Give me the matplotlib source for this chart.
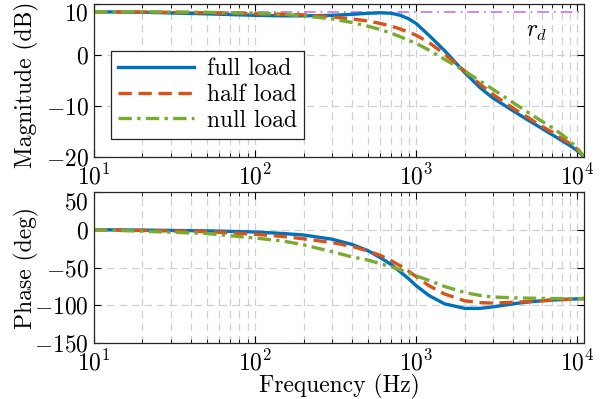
import matplotlib
matplotlib.use("Agg")
import matplotlib.pyplot as plt
from matplotlib.ticker import LogLocator, NullFormatter

plt.rcParams["font.family"] = "serif"
plt.rcParams["font.serif"] = ["cmr10"]
plt.rcParams["mathtext.fontset"] = "cm"
plt.rcParams["axes.formatter.use_mathtext"] = True
plt.rcParams["font.size"] = 17

# frequency grid (Hz) shared by all curves
freq_hz = [10, 20, 50, 100, 150, 200, 300, 400, 500, 600, 700, 800, 900, 1000,
           1200, 1500, 2000, 2500, 3000, 4000, 5000, 6000, 7000, 8000, 9000,
           10000, 11000]

# magnitude (dB)
mag_full = [8.4, 8.3, 8.0, 7.7, 7.6, 7.6, 7.7, 7.9, 8.1, 8.2, 8.1, 7.7, 7.0, 6.1,
            3.8, 0.8, -3.5, -6.5, -8.5, -11.0, -12.9, -14.4, -15.7, -16.8, -17.8,
            -18.8, -20.0]
mag_half = [8.4, 8.35, 8.2, 8.0, 7.9, 7.8, 7.4, 7.0, 6.6, 6.1, 5.6, 5.0, 4.4, 3.8,
            2.4, 0.1, -3.2, -5.8, -7.8, -10.5, -12.4, -14.0, -15.2, -16.4, -17.4,
            -18.5, -20.0]
mag_null = [8.4, 8.4, 8.3, 8.1, 7.9, 7.6, 7.0, 6.3, 5.6, 4.9, 4.2, 3.5, 2.8, 2.2,
            0.9, -0.9, -3.2, -5.2, -6.8, -9.4, -11.4, -13.0, -14.3, -15.6, -16.9,
            -18.3, -20.0]

# phase (deg)
ph_full = [0, -0.5, -1.5, -3, -5, -7, -12.5, -19.5, -27.5, -37, -46, -56, -65, -74,
           -87, -98, -104, -104, -102, -98, -95.5, -94, -93, -92.3, -91.8, -91.4, -91]
ph_half = [0, -1, -2.5, -6, -9, -12, -17, -22, -28, -34, -41, -48, -55, -62,
           -74, -85, -94, -96.5, -97, -96, -95, -94, -93, -92.5, -92, -91.5, -91]
ph_null = [0, -2, -5, -11, -15, -20, -29, -36, -40, -45, -49, -53, -57, -61,
           -67, -75, -83, -87, -89, -90, -90.5, -90.8, -91, -91, -91, -91, -91]

r_d = 8.3
labels = ["full load", "half load", "null load"]
colors = ["#0072BD", "#D95319", "#77AC30"]

fig = plt.figure(figsize=(6.02, 3.99), dpi=100)
ax1 = fig.add_axes([0.156, 0.607, 0.814, 0.384])
ax2 = fig.add_axes([0.156, 0.140, 0.814, 0.379])

styles = [dict(ls="-"), dict(ls=(0, (4, 2))), dict(ls=(0, (4, 1.6, 1, 1.6)))]

for ax in (ax1, ax2):
    ax.set_xscale("log")
    ax.set_xlim(10, 1.1e4)
    ax.xaxis.set_major_locator(LogLocator(base=10, numticks=10))
    ax.xaxis.set_minor_locator(LogLocator(base=10, subs=range(2, 10), numticks=20))
    ax.xaxis.set_minor_formatter(NullFormatter())
    ax.grid(True, which="major", color="#d0d0d0", ls=(0, (6, 4)), lw=0.9)
    ax.grid(True, which="minor", axis="x", color="#d0d0d0", ls=(0, (6, 4)), lw=0.9)
    ax.set_axisbelow(True)
    ax.tick_params(which="both", direction="in", top=True, right=True)
    ax.tick_params(which="major", length=5, width=0.8)
    ax.tick_params(which="minor", length=3, width=0.6)
    for s in ax.spines.values():
        s.set_linewidth(0.9)
        s.set_color("#262626")

mags = [mag_full, mag_half, mag_null]
phases = [ph_full, ph_half, ph_null]
ax1.axhline(r_d, color="#CC88EE", lw=1.4, ls=(0, (6, 2.5, 1, 2.5)), zorder=1.5)
for m, p, c, st, lab in zip(mags, phases, colors, styles, labels):
    ax1.plot(freq_hz, m, color=c, lw=2.4, label=lab, **st)
    ax2.plot(freq_hz, p, color=c, lw=2.4, **st)

ax1.text(5600, 4.4, r"$r_d$", fontsize=17, ha="center", va="center")

ax1.set_ylim(-20, 10)
ax1.set_yticks([-20, -10, 0, 10])
ax1.set_ylabel("Magnitude (dB)")

ax2.set_ylim(-150, 50)
ax2.set_yticks([-150, -100, -50, 0, 50])
ax2.set_ylabel("Phase (deg)")
ax2.set_xlabel("Frequency (Hz)", labelpad=-1)

# end labels pulled inward so they stay clear of the figure edge and x labels
fig.canvas.draw()
for ax in (ax1, ax2):
    ax.get_yticklabels()[-1].set_va("top")
    ax.get_yticklabels()[0].set_va("center_baseline")

ax1.yaxis.set_label_coords(-0.112, 0.47)
ax2.yaxis.set_label_coords(-0.112, 0.5)
for ax in (ax1, ax2):
    ax.tick_params(axis="x", pad=5)

leg = ax1.legend(loc="upper left", bbox_to_anchor=(0.035, 0.69), handlelength=3.2,
                 handletextpad=0.55, borderpad=0.3, labelspacing=0.15,
                 borderaxespad=0, fancybox=False, framealpha=1, edgecolor="#262626")
leg.get_frame().set_linewidth(0.9)

fig.savefig("out.png", dpi=100)
